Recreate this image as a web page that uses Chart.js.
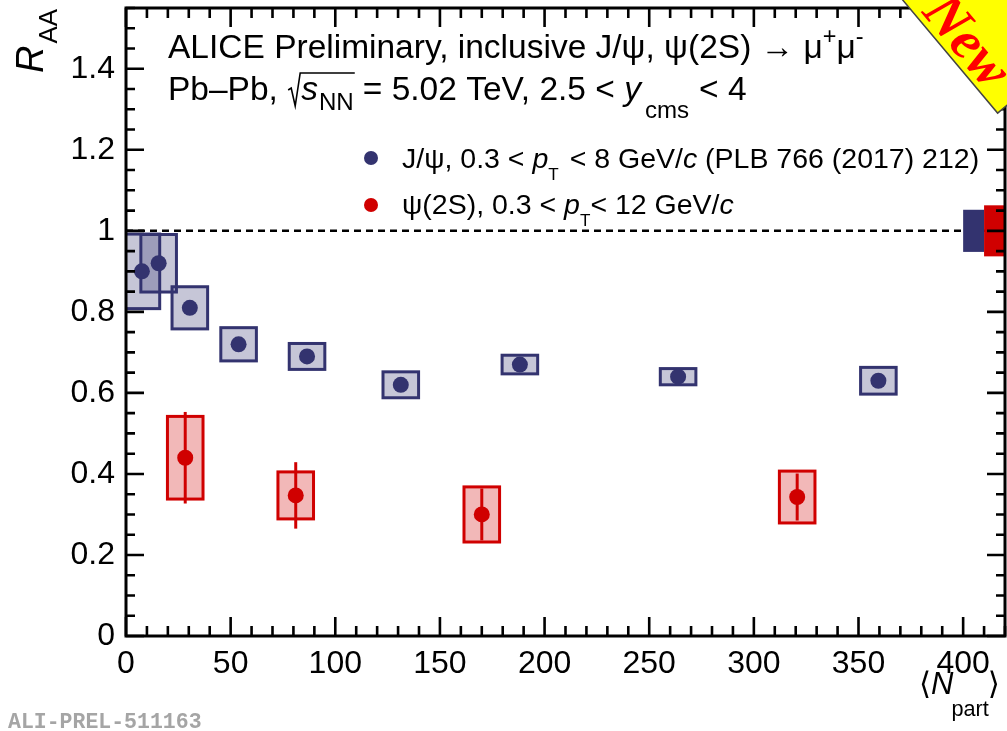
<!DOCTYPE html>
<html>
<head>
<meta charset="utf-8">
<title>R_AA vs Npart</title>
<script src="https://cdn.jsdelivr.net/npm/chart.js@4.4.1/dist/chart.umd.min.js"></script>
<style>
  html, body { margin: 0; padding: 0; background: #fff; }
  #wrap { width: 1007px; height: 731px; }
</style>
</head>
<body>
<div id="wrap"><canvas id="raaChart" width="1007" height="731"></canvas></div>
<script>
// J/psi, 0.3 < pT < 8 GeV/c
const jpsiNpart = [7.6, 15.6, 30.5, 53.8, 86.5, 131.3, 188.2, 263.8, 359.5];
const jpsiRaa   = [0.90, 0.92, 0.81, 0.72, 0.69, 0.62, 0.67, 0.64, 0.63];
const jpsiSys   = [0.092, 0.071, 0.052, 0.041, 0.032, 0.032, 0.023, 0.020, 0.033];

// psi(2S), 0.3 < pT < 12 GeV/c
const psi2sNpart = [28.3, 81.1, 170.0, 320.7];
const psi2sRaa   = [0.44, 0.347, 0.30, 0.343];
const psi2sStat  = [0.113, 0.082, 0.064, 0.058];
const psi2sSys   = [0.102, 0.058, 0.068, 0.064];

// correlated (global) uncertainties, shown as boxes around unity
const jpsiGlobal  = 0.052;
const psi2sGlobal = 0.063;

const xTicks = [0, 50, 100, 150, 200, 250, 300, 350, 400];
const yTicks = [0, 0.2, 0.4, 0.6, 0.8, 1, 1.2, 1.4];

const NAVY = '#33336f';
const RED = '#d00000';
const NAVY_FILL = 'rgba(51, 51, 111, 0.28)';
const RED_FILL = 'rgba(208, 0, 0, 0.28)';
const SANS = '"Liberation Sans", Arial, Helvetica, sans-serif';

const X_MIN = 0, X_MAX = 420, Y_MIN = 0, Y_MAX = 1.55;
const BOX_HALF = 8.5;   // half width of the systematic boxes, in Npart units

// draws a run of text pieces with italic / sub / superscript parts
function drawRich(ctx, x, y, runs, size) {
  let cx = x;
  for (const r of runs) {
    let fs = size, dy = 0;
    if (r.sub) { fs = size * (r.scale || 0.72); dy = size * (r.dy !== undefined ? r.dy : 0.3); }
    if (r.sup) { fs = size * 0.7; dy = -size * 0.42; }
    ctx.font = (r.i ? 'italic ' : '') + fs + 'px ' + (r.fam || SANS);
    ctx.fillText(r.t, cx, y + dy);
    cx += ctx.measureText(r.t).width + (r.gap || 0);
  }
  return cx;
}

const points = (xs, ys) => xs.map((x, i) => ({ x: x, y: ys[i] }));

const decorations = {
  id: 'decorations',
  beforeDatasetsDraw(chart) {
    const { ctx, chartArea: a, scales: { x, y } } = chart;
    ctx.save();
    ctx.beginPath();
    ctx.rect(a.left, a.top, a.right - a.left, a.bottom - a.top);
    ctx.clip();

    // unity reference
    ctx.setLineDash([7, 5]);
    ctx.lineWidth = 2.5;
    ctx.strokeStyle = '#000';
    ctx.beginPath();
    ctx.moveTo(x.getPixelForValue(X_MIN), y.getPixelForValue(1));
    ctx.lineTo(x.getPixelForValue(X_MAX), y.getPixelForValue(1));
    ctx.stroke();
    ctx.setLineDash([]);

    // global uncertainty boxes
    const gbox = (x0, x1, half, color) => {
      const px0 = x.getPixelForValue(x0), px1 = x.getPixelForValue(x1);
      const py0 = y.getPixelForValue(1 + half), py1 = y.getPixelForValue(1 - half);
      ctx.fillStyle = color;
      ctx.fillRect(px0, py0, px1 - px0, py1 - py0);
    };
    gbox(400, 410, jpsiGlobal, NAVY);
    gbox(410, 420, psi2sGlobal, RED);

    // systematic boxes
    const sysBoxes = (xs, ys, sys, fill, stroke) => {
      ctx.lineWidth = 3;
      xs.forEach((xv, i) => {
        const px0 = x.getPixelForValue(xv - BOX_HALF), px1 = x.getPixelForValue(xv + BOX_HALF);
        const py0 = y.getPixelForValue(ys[i] + sys[i]), py1 = y.getPixelForValue(ys[i] - sys[i]);
        ctx.fillStyle = fill;
        ctx.fillRect(px0, py0, px1 - px0, py1 - py0);
        ctx.strokeStyle = stroke;
        ctx.strokeRect(px0, py0, px1 - px0, py1 - py0);
      });
    };
    sysBoxes(jpsiNpart, jpsiRaa, jpsiSys, NAVY_FILL, NAVY);
    sysBoxes(psi2sNpart, psi2sRaa, psi2sSys, RED_FILL, RED);

    // statistical error bars
    ctx.strokeStyle = RED;
    ctx.lineWidth = 3;
    psi2sNpart.forEach((xv, i) => {
      const px = x.getPixelForValue(xv);
      ctx.beginPath();
      ctx.moveTo(px, y.getPixelForValue(psi2sRaa[i] + psi2sStat[i]));
      ctx.lineTo(px, y.getPixelForValue(psi2sRaa[i] - psi2sStat[i]));
      ctx.stroke();
    });
    ctx.restore();
  },
  afterDraw(chart) {
    const { ctx, chartArea: a, scales: { x, y } } = chart;
    ctx.save();
    ctx.strokeStyle = '#000';
    ctx.fillStyle = '#000';

    // frame with inward ticks on all four sides
    ctx.lineWidth = 3;
    ctx.strokeRect(a.left, a.top, a.right - a.left, a.bottom - a.top);
    ctx.lineWidth = 2.6;
    ctx.beginPath();
    for (let v = X_MIN; v <= X_MAX + 1e-6; v += 10) {
      const px = x.getPixelForValue(v);
      const len = Math.abs(v % 50) < 1e-6 ? 19 : 10;
      ctx.moveTo(px, a.bottom); ctx.lineTo(px, a.bottom - len);
      ctx.moveTo(px, a.top); ctx.lineTo(px, a.top + len);
    }
    for (let k = 0; k * 0.05 <= Y_MAX + 1e-6; k++) {
      const py = y.getPixelForValue(k * 0.05);
      const len = k % 4 === 0 ? 18 : 9;
      ctx.moveTo(a.left, py); ctx.lineTo(a.left + len, py);
      ctx.moveTo(a.right, py); ctx.lineTo(a.right - len, py);
    }
    ctx.stroke();

    ctx.textAlign = 'left';
    ctx.textBaseline = 'alphabetic';

    // header
    drawRich(ctx, 168, 58, [
      { t: 'ALICE Preliminary, inclusive J/ψ, ψ(2S) → μ' },
      { t: '+', sup: true },
      { t: 'μ' },
      { t: '-', sup: true }
    ], 33.5);
    const sq = drawRich(ctx, 168, 100, [{ t: 'Pb–Pb, ' }], 33.5);
    // square root sign with bar over s_NN
    const rootEnd = drawRich(ctx, sq + 14, 100, [
      { t: 's', i: true, gap: 1 },
      { t: 'NN', sub: true, dy: 0.3 }
    ], 33.5);
    ctx.lineWidth = 1.6;
    ctx.beginPath();
    ctx.moveTo(sq + 1, 90);
    ctx.lineTo(sq + 4, 88);
    ctx.lineTo(sq + 8, 106);
    ctx.lineTo(sq + 13, 73);
    ctx.lineTo(rootEnd + 1, 73);
    ctx.stroke();
    drawRich(ctx, rootEnd + 9, 100, [
      { t: '= 5.02 TeV, 2.5 < ' },
      { t: 'y', i: true, gap: 4 },
      { t: 'cms', sub: true, dy: 0.55, gap: 10 },
      { t: '< 4' }
    ], 33.5);

    // legend
    const legend = (cy, base, color, runs) => {
      ctx.fillStyle = color;
      ctx.beginPath();
      ctx.arc(371, cy, 7, 0, Math.PI * 2);
      ctx.fill();
      ctx.fillStyle = '#000';
      drawRich(ctx, 402, base, runs, 28.5);
    };
    legend(158, 168, NAVY, [
      { t: 'J/ψ, 0.3 < ' },
      { t: 'p', i: true },
      { t: 'T', sub: true, dy: 0.42, scale: 0.6, gap: 3 },
      { t: ' < 8 GeV/' },
      { t: 'c', i: true },
      { t: ' (PLB 766 (2017) 212)' }
    ]);
    legend(205, 214, RED, [
      { t: 'ψ(2S), 0.3 < ' },
      { t: 'p', i: true },
      { t: 'T', sub: true, dy: 0.42, scale: 0.6 },
      { t: '< 12 GeV/' },
      { t: 'c', i: true }
    ]);

    // axis titles
    ctx.save();
    ctx.translate(43, 73);
    ctx.rotate(-Math.PI / 2);
    drawRich(ctx, 0, 0, [
      { t: 'R', i: true, gap: 2 },
      { t: 'AA', sub: true, scale: 0.68, dy: 0.36 }
    ], 38);
    ctx.restore();
    drawRich(ctx, 919, 694, [
      { t: '⟨', fam: '"DejaVu Sans", sans-serif' },
      { t: 'N', i: true, gap: -2 },
      { t: 'part', sub: true, scale: 0.7, dy: 0.7, gap: -1 },
      { t: '⟩', fam: '"DejaVu Sans", sans-serif' }
    ], 31);

    // preliminary id
    ctx.fillStyle = '#a5a5a5';
    ctx.font = 'bold 21.5px "Liberation Mono", "Courier New", monospace';
    ctx.fillText('ALI-PREL-511163', 8, 728);

    // corner ribbon
    ctx.translate(965, 40);
    ctx.rotate(50 * Math.PI / 180);
    ctx.fillStyle = '#ffff00';
    ctx.strokeStyle = '#444';
    ctx.lineWidth = 1.5;
    ctx.beginPath();
    ctx.rect(-220, -120, 297, 142);
    ctx.fill();
    ctx.stroke();
    ctx.fillStyle = '#ff0000';
    ctx.font = 'italic bold 56px "Liberation Serif", "Times New Roman", serif';
    ctx.textAlign = 'center';
    ctx.fillText('New', 2, 16);
    ctx.restore();
  }
};

new Chart(document.getElementById('raaChart'), {
  type: 'scatter',
  data: {
    datasets: [
      {
        label: 'J/ψ',
        data: points(jpsiNpart, jpsiRaa),
        backgroundColor: NAVY,
        borderWidth: 0,
        pointRadius: 8,
        pointHoverRadius: 8
      },
      {
        label: 'ψ(2S)',
        data: points(psi2sNpart, psi2sRaa),
        backgroundColor: RED,
        borderWidth: 0,
        pointRadius: 8,
        pointHoverRadius: 8
      }
    ]
  },
  options: {
    responsive: false,
    devicePixelRatio: 1,
    animation: false,
    events: [],
    layout: { autoPadding: false, padding: { top: 8, right: 2, left: 0, bottom: 0 } },
    plugins: {
      legend: { display: false },
      tooltip: { enabled: false }
    },
    scales: {
      x: {
        type: 'linear',
        min: X_MIN,
        max: X_MAX,
        grid: { display: false, drawTicks: false },
        border: { display: false },
        afterBuildTicks(s) { s.ticks = xTicks.map(v => ({ value: v })); },
        afterFit(s) { s.height = 95; s.paddingLeft = 0; s.paddingRight = 0; },
        ticks: {
          autoSkip: false,
          maxRotation: 0,
          padding: 9,
          color: '#000',
          font: { family: SANS, size: 32 },
          callback: v => String(v)
        }
      },
      y: {
        type: 'linear',
        min: Y_MIN,
        max: Y_MAX,
        grid: { display: false, drawTicks: false },
        border: { display: false },
        afterBuildTicks(s) { s.ticks = yTicks.map(v => ({ value: v })); },
        afterFit(s) { s.width = 126; s.paddingTop = 0; s.paddingBottom = 0; },
        ticks: {
          autoSkip: false,
          padding: 11,
          color: '#000',
          font: { family: SANS, size: 32 },
          callback: v => String(v)
        }
      }
    }
  },
  plugins: [decorations]
});
</script>
</body>
</html>
